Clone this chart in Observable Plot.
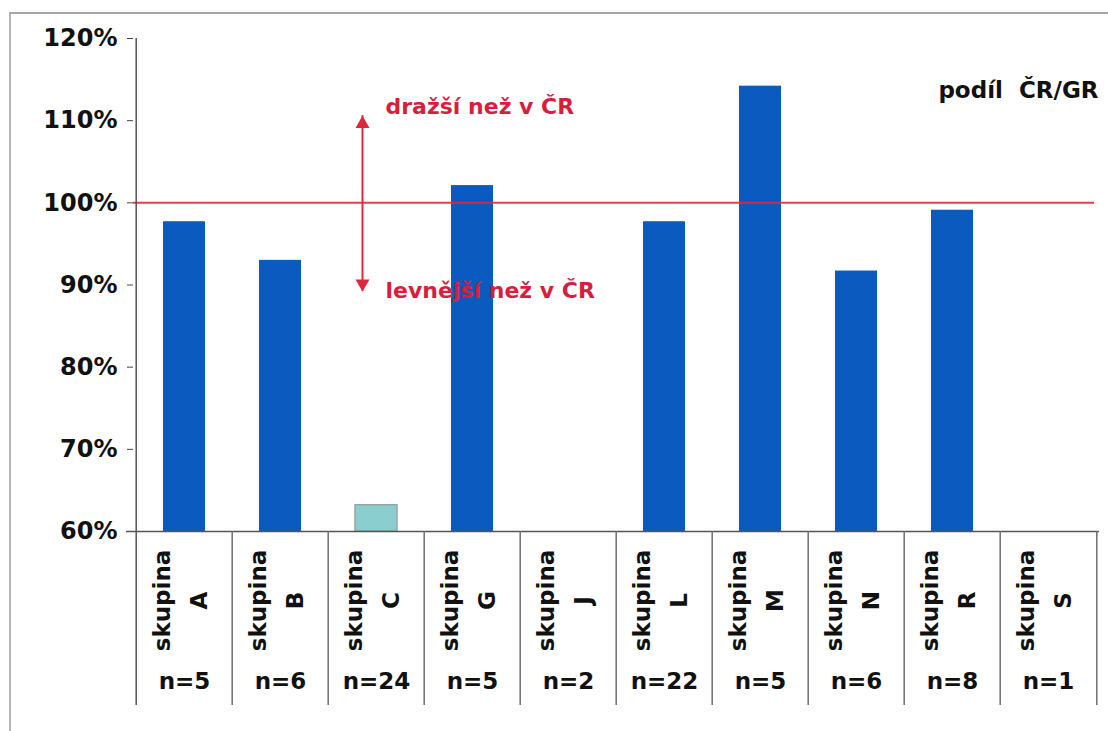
<!DOCTYPE html>
<html>
<head>
<meta charset="utf-8">
<script src="https://cdn.jsdelivr.net/npm/d3@7"></script>
<script src="https://cdn.jsdelivr.net/npm/@observablehq/plot@0.6"></script>
<style>
  html, body { margin: 0; padding: 0; background: #fff; }
  #wrap { position: relative; width: 1108px; height: 731px; overflow: hidden; }
  #border { position: absolute; left: 9px; top: 12px; right: 0; bottom: 0;
            border-top: 2px solid #a6a6a6; border-left: 2px solid #b4b4b4; }
  #chart { position: absolute; left: 0; top: 0; }
</style>
</head>
<body>
<div id="wrap"><div id="border"></div><div id="chart"></div></div>
<script>
// Price ratio CZ/GR by product group (in %), with number of items per group
const groups = ["A", "B", "C", "G", "J", "L", "M", "N", "R", "S"];
const shares = [97.7, 93.0, 63.2, 102.1, null, 97.7, 114.2, 91.7, 99.1, null];
const counts = [5, 6, 24, 5, 2, 22, 5, 6, 8, 1];
const yTicks = [60, 70, 80, 90, 100, 110, 120];
const parity = 100;
const groupWord = "skupina";
const labelUp = "dražší než v ČR";
const labelDown = "levnější než v ČR";
const heading = "podíl\u00a0 ČR/GR";

const rows = groups.map((g, i) => ({group: g, share: shares[i], n: counts[i]}));

// layout
const W = 1108, H = 731;
const mL = 133, mR = 9, mT = 38, mB = 200;
const step = (W - mL - mR) / groups.length;
const tableDepth = 174;           // how far the category table reaches below the axis
const yMin = yTicks[0];
const yMax = yTicks[yTicks.length - 1];

const blue = "#0a5abf";
const red = "#e0283c";
const crimson = "#d71f3d";
const lineGray = "#6e6e6e";

// annotation: arrow either side of parity, with its two captions
const arrowX = "C";
const arrowTop = 110.6, arrowBottom = 89.2;
const headR = 6.7;
const tip = Math.sqrt(Math.PI * headR * headR) * 0.6824;   // centre-to-tip of the triangle symbol
const notes = [
  {x: arrowX, y: 111.7, text: labelUp},
  {x: arrowX, y: 89.3, text: labelDown}
];

const chart = Plot.plot({
  width: W, height: H,
  marginLeft: mL, marginRight: mR, marginTop: mT, marginBottom: mB,
  style: {background: "transparent", fontFamily: "'DejaVu Sans', sans-serif", fontWeight: "bold", color: "#111"},
  x: {domain: groups, paddingInner: 0.565, paddingOuter: 0.2825, axis: null},
  y: {domain: [yMin, yMax], axis: null},
  marks: [
    // bars
    Plot.barY(rows, {x: "group", y1: yMin, y2: "share", fill: blue, filter: d => d.group !== "C"}),
    Plot.barY(rows, {x: "group", y1: yMin, y2: "share", fill: "#8bced0", stroke: "#98a4a4", strokeWidth: 1.5,
                     filter: d => d.group === "C"}),

    // parity line
    Plot.ruleY([parity], {stroke: red, strokeWidth: 2, strokeOpacity: 0.9, insetRight: 5}),

    // arrow
    Plot.ruleX([{x: arrowX, y1: arrowBottom, y2: arrowTop}], {x: "x", y1: "y1", y2: "y2", dx: -14, stroke: red, strokeWidth: 2}),
    Plot.dot([{x: arrowX, y: arrowTop}], {x: "x", y: "y", dx: -14, dy: tip, symbol: "triangle2", r: headR, fill: red, stroke: "none"}),
    Plot.dot([{x: arrowX, y: arrowBottom}], {x: "x", y: "y", dx: -14, dy: -tip, rotate: 180, symbol: "triangle2", r: headR, fill: red, stroke: "none"}),
    Plot.text(notes, {x: "x", y: "y", text: "text", dx: 9, textAnchor: "start", fill: crimson, fontSize: 22, fontWeight: "bold"}),

    // heading
    Plot.text([heading], {text: d => d, frameAnchor: "top-right", dx: -1, dy: 43, fontSize: 23, fontWeight: "bold", fill: "#111"}),

    // y axis
    Plot.axisY(yTicks, {tickFormat: d => d + "%", tickSize: 6, tickPadding: 10, fontSize: 24, fontWeight: "bold",
                        stroke: "#444", fill: "#111", label: null}),
    Plot.ruleY([yMin], {insetLeft: -7, stroke: "#555", strokeWidth: 1.5}),

    // category table: axis line down the left, dividers between groups
    Plot.ruleX([groups[0]], {x: d => d, y1: yMax, y2: yMin, dx: -step / 2, insetBottom: -tableDepth, stroke: "#555", strokeWidth: 1.5}),
    Plot.ruleX(groups.slice(1), {x: d => d, y1: yMin, y2: yMin, dx: -step / 2, insetBottom: -tableDepth, stroke: lineGray, strokeWidth: 1.5}),
    Plot.ruleX(groups.slice(-1), {x: d => d, y1: yMin, y2: yMin, dx: step / 2, insetBottom: -tableDepth, stroke: lineGray, strokeWidth: 1.5}),

    // category labels and counts
    Plot.text(rows, {x: "group", frameAnchor: "bottom", text: d => groupWord + "\n" + d.group, rotate: -90,
                     dx: 22, dy: 69, lineHeight: 1.6, fontSize: 23, fontWeight: "bold", fill: "#111"}),
    Plot.text(rows, {x: "group", frameAnchor: "bottom", text: d => "n=" + d.n, dy: 157,
                     fontSize: 23, fontWeight: "bold", fill: "#111"})
  ]
});

document.getElementById("chart").appendChild(chart);
</script>
</body>
</html>
